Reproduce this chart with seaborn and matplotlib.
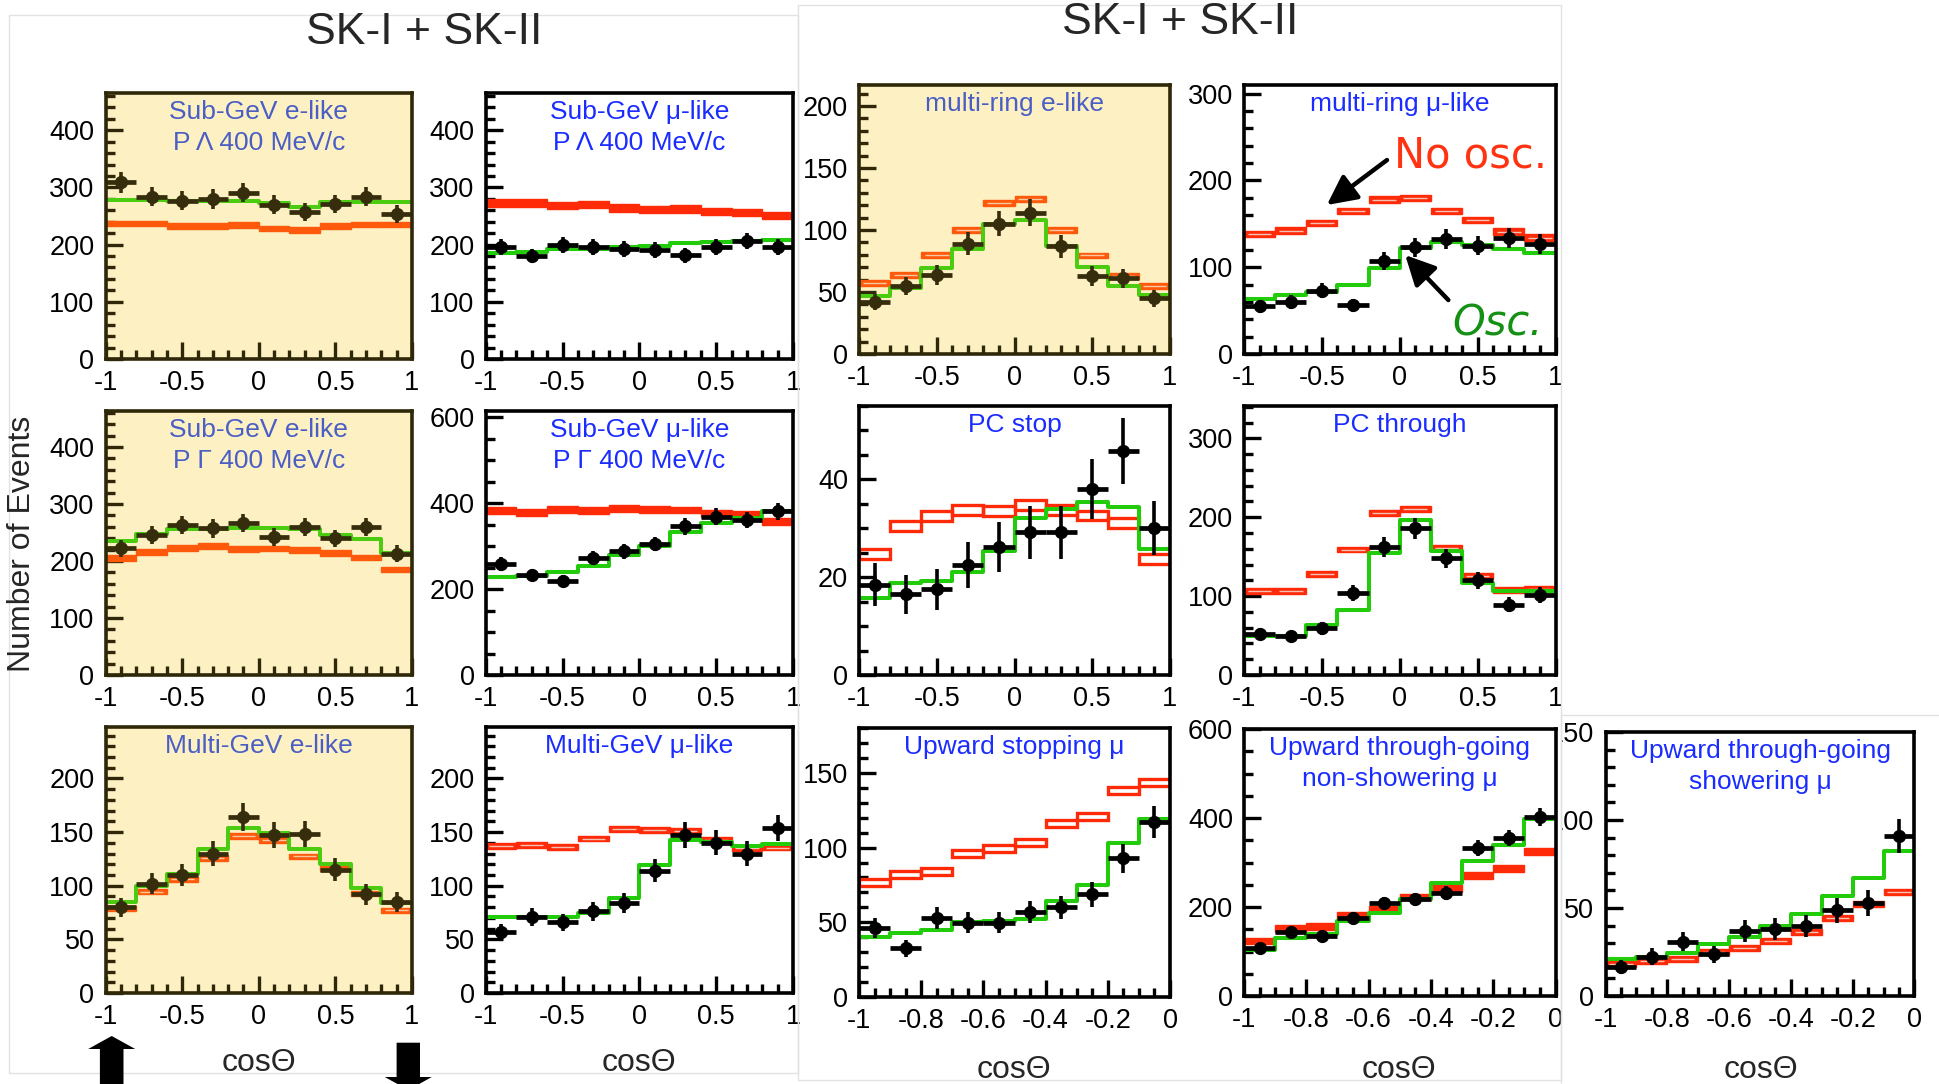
import numpy as np
import pandas as pd
import matplotlib
matplotlib.use("Agg")
import matplotlib.pyplot as plt
from matplotlib.patches import Rectangle, Polygon
from matplotlib.transforms import Bbox
import seaborn as sns

sns.set_theme(style="ticks")
plt.rcParams["font.family"] = ["Liberation Sans", "DejaVu Sans"]
plt.rcParams["axes.unicode_minus"] = False

FIG_W, FIG_H = 1939, 1084

# ---------------- zenith-angle bins ----------------
cos_edges = [-1.0, -0.8, -0.6, -0.4, -0.2, 0.0, 0.2, 0.4, 0.6, 0.8, 1.0]
up_edges = [-1.0, -0.9, -0.8, -0.7, -0.6, -0.5, -0.4, -0.3, -0.2, -0.1, 0.0]
cos_ticks = [-1, -0.5, 0, 0.5, 1]
cos_labels = ["-1", "-0.5", "0", "0.5", "1"]
up_ticks = [-1, -0.8, -0.6, -0.4, -0.2, 0]
up_labels = ["-1", "-0.8", "-0.6", "-0.4", "-0.2", "0"]

# ---------------- Sub-GeV e-like, low momentum ----------------
sub_e_lo_data = [309, 284, 277, 280, 291, 270, 257, 271, 284, 254]
sub_e_lo_err = [18, 17, 17, 17, 17, 16, 16, 16, 17, 16]
sub_e_lo_osc = [278, 278, 277, 276, 277, 272, 265, 274, 275, 275]
sub_e_lo_noosc = [237, 237, 233, 232, 234, 228, 225, 233, 235, 235]

# ---------------- Sub-GeV mu-like, low momentum ----------------
sub_mu_lo_data = [195, 180, 199, 196, 192, 190, 181, 195, 207, 196]
sub_mu_lo_err = [14, 13, 14, 14, 14, 14, 13, 14, 14, 14]
sub_mu_lo_osc = [185, 187, 192, 193, 196, 198, 202, 204, 206, 208]
sub_mu_lo_noosc = [273, 273, 268, 270, 264, 261, 262, 258, 256, 251]

# ---------------- multi-ring e-like ----------------
mr_e_data = [42, 55, 64, 89, 105, 114, 87, 63, 61, 45]
mr_e_err = [6.5, 7.4, 8.0, 9.4, 10.2, 10.7, 9.3, 7.9, 7.8, 6.7]
mr_e_osc = [47, 53.5, 69, 85, 105, 108, 87.5, 70, 54.5, 47.5]
mr_e_noosc = [57, 64, 80, 100, 122, 125, 100, 79.5, 63, 55]

# ---------------- multi-ring mu-like ----------------
mr_mu_data = [55, 60, 73, 56, 107, 123, 132, 125, 134, 127]
mr_mu_err = [7.4, 7.7, 8.5, 7.5, 10.3, 11.1, 11.5, 11.2, 11.6, 11.3]
mr_mu_osc = [63, 68, 72, 80, 99, 122, 129, 126, 121, 116]
mr_mu_noosc = [138.5, 142, 151, 165, 178, 180, 165, 154.5, 141, 134]

# ---------------- Sub-GeV e-like, high momentum ----------------
sub_e_hi_data = [222, 246, 263, 257, 266, 242, 260, 240, 260, 213]
sub_e_hi_err = [15, 16, 16, 16, 16, 16, 16, 15, 16, 15]
sub_e_hi_osc = [235, 248, 255.5, 255.5, 257, 257, 255.5, 245.5, 238, 214.5]
sub_e_hi_noosc = [205, 216, 223, 226, 220.5, 222, 219, 214.5, 206, 185]

# ---------------- Sub-GeV mu-like, high momentum ----------------
sub_mu_hi_data = [258, 233, 219, 272, 288, 305, 346, 369, 361, 381]
sub_mu_hi_err = [16, 15, 15, 16, 17, 17, 19, 19, 19, 20]
sub_mu_hi_osc = [228, 229.5, 239, 255, 280, 301.5, 332, 353.5, 365, 383]
sub_mu_hi_noosc = [383, 378, 386, 384, 388, 386, 384.5, 377, 373, 357]

# ---------------- PC stop ----------------
pc_stop_data = [18.5, 16.5, 17.5, 22.4, 26.2, 29.2, 29.2, 38, 45.8, 30.1]
pc_stop_err = [4.3, 4.0, 4.2, 4.7, 5.1, 5.4, 5.4, 6.2, 6.8, 5.5]
pc_stop_osc = [15.8, 18.8, 19.3, 21.1, 25.4, 32.1, 34.0, 35.4, 34.3, 25.7]
pc_stop_noosc = [24.7, 30.4, 32.5, 33.7, 33.5, 34.8, 33.7, 32.6, 31.1, 23.7]

# ---------------- PC through ----------------
pc_thru_data = [52, 49, 59, 104, 162, 186, 148, 120, 89, 101]
pc_thru_err = [7.2, 7.0, 7.7, 10.2, 12.7, 13.6, 12.2, 11.0, 9.4, 10.0]
pc_thru_osc = [50, 49, 63, 83, 155, 196, 157, 117, 106, 107]
pc_thru_noosc = [107, 107, 128, 159, 205, 210.7, 161, 125, 108, 109]

# ---------------- Multi-GeV e-like ----------------
mg_e_data = [80, 102, 110, 130, 164, 147, 148, 115, 92, 85]
mg_e_err = [9.0, 10.0, 10.5, 11.4, 12.8, 12.1, 12.2, 10.7, 9.6, 9.2]
mg_e_osc = [84.5, 100, 110.5, 134, 154, 149, 134, 120.5, 97.5, 83.5]
mg_e_noosc = [79, 94.5, 106, 126, 146.5, 142.5, 127.5, 116, 92.5, 77]

# ---------------- Multi-GeV mu-like ----------------
mg_mu_data = [57, 71, 66, 76, 84, 114, 147, 140, 130, 154]
mg_mu_err = [7.5, 8.4, 8.1, 8.7, 9.2, 10.7, 12.1, 11.8, 11.4, 12.4]
mg_mu_osc = [70.5, 71, 71, 75, 89, 119, 142.5, 141, 137, 138.5]
mg_mu_noosc = [137, 138, 136, 144, 153, 152, 151, 142.5, 135, 135.5]

# ---------------- Upward stopping mu ----------------
up_stop_data = [46, 32.5, 52.7, 49.6, 49.6, 56.7, 60, 68.6, 92.7, 117]
up_stop_err = [6.8, 5.7, 7.3, 7.0, 7.0, 7.5, 7.7, 8.3, 9.6, 10.8]
up_stop_osc = [40, 42.8, 45, 50.4, 50.7, 52, 64, 74.7, 102.8, 119]
up_stop_noosc = [76.5, 82, 83.7, 96, 99.4, 103.4, 116, 121, 138, 143.8]

# ---------------- Upward through-going, non-showering mu ----------------
up_ns_data = [108, 144, 134, 175, 208, 217, 232, 333, 355, 402]
up_ns_err = [10.4, 12.0, 11.6, 13.2, 14.4, 14.7, 15.2, 18.2, 18.8, 20.0]
up_ns_osc = [104, 131, 140, 168, 187, 217, 255, 304, 340, 397]
up_ns_noosc = [123.5, 151, 157, 181, 195, 222.5, 241, 270, 286, 325]

# ---------------- Upward through-going, showering mu ----------------
up_sh_data = [16.3, 22.3, 30.8, 23.6, 36.8, 38, 39.8, 48.7, 52.8, 91]
up_sh_err = [4.0, 4.7, 5.5, 4.9, 6.1, 6.2, 6.3, 7.0, 7.3, 9.5]
up_sh_osc = [20.8, 22.3, 24.6, 29.5, 33.6, 39.8, 46.8, 56.8, 67, 82.5]
up_sh_noosc = [18, 20, 21, 24.8, 27.4, 31.4, 36.4, 44.4, 52, 59]

# ---------------- colour schemes ----------------
WHITE = dict(bg="white", frame="black", pt="black", red="#ff2a08",
             mid="#f2c2b4", green="#22cc0a", title="#1a2cff")
YELLOW = dict(bg="#fdf1c4", frame="#2e2708", pt="#362d0c", red="#ff5a0c",
              mid="#f7c8a0", green="#4ccc10", title="#4a5ec4")

TICK_FS = 19.5
TITLE_FS = 19

fig = plt.figure(figsize=(FIG_W / 100, FIG_H / 100), dpi=100)


def px_rect(left, top, right, bottom):
    return [left / FIG_W, 1 - bottom / FIG_H, (right - left) / FIG_W, (bottom - top) / FIG_H]


def draw_panel(box, edges, data, err, osc, noosc, band, style, ymax, ymajor,
               yminor, xmajor, xlabels, xminor, title, scheme):
    ax = fig.add_axes(px_rect(*box))
    c = scheme
    ax.set_facecolor(c["bg"])
    edges = np.asarray(edges, float)
    width = edges[1] - edges[0]
    centers = edges[:-1] + width / 2
    noosc = np.asarray(noosc, float)

    # no-oscillation expectation as MC boxes
    if style == "hollow":
        ax.bar(edges[:-1], 2 * band, bottom=noosc - band, width=width, align="edge",
               facecolor="none", edgecolor=c["red"], linewidth=2.4, zorder=2)
    else:
        ax.bar(edges[:-1], 2 * band, bottom=noosc - band, width=width, align="edge",
               facecolor=c["red"], edgecolor=c["red"], linewidth=1.0, zorder=2)
        if style == "line":
            ax.hlines(noosc, edges[:-1] + 0.12 * width, edges[1:] - 0.12 * width,
                      color=c["mid"], lw=1.0, zorder=2.5)

    # oscillated best fit as a step histogram
    steps = pd.DataFrame({"cos": edges, "n": np.append(osc, osc[-1])})
    sns.lineplot(data=steps, x="cos", y="n", drawstyle="steps-post", color=c["green"],
                 lw=2.9, ax=ax, estimator=None, sort=False, legend=False, zorder=3)

    # observed events: bin-width bars, statistical errors and markers
    ax.errorbar(centers, data, xerr=width / 2, fmt="none", ecolor=c["pt"],
                elinewidth=3.4, capsize=0, zorder=4)
    ax.errorbar(centers, data, yerr=err, fmt="o", ms=8.5, color=c["pt"], ecolor=c["pt"],
                elinewidth=2.6, capsize=0, zorder=4)

    ax.set_xlim(edges[0], edges[-1])
    ax.set_ylim(0, ymax)
    ax.set_xlabel("")
    ax.set_ylabel("")
    ax.set_xticks(xmajor)
    ax.set_xticklabels(xlabels)
    ax.set_xticks(xminor, minor=True)
    ax.set_yticks(ymajor)
    ax.set_yticklabels([f"{v:g}" for v in ymajor])
    ax.set_yticks(yminor, minor=True)
    ax.tick_params(which="both", direction="in", top=False, right=False, left=True,
                   bottom=True, color=c["frame"], width=2.4, labelsize=TICK_FS, pad=8,
                   labelcolor="black")
    ax.tick_params(which="major", length=12)
    ax.tick_params(which="minor", length=6.2)
    for sp in ax.spines.values():
        sp.set_visible(True)
        sp.set_linewidth(2.6)
        sp.set_color(c["frame"])
        sp.set_zorder(6)

    for line, off in zip(title, (13.7, 36.0)):
        ax.annotate(line, xy=(0.5, 1.0), xycoords="axes fraction", xytext=(0, -off),
                    textcoords="offset points", ha="center", va="center",
                    fontsize=TITLE_FS, color=c["title"], zorder=7)
    return ax


def minor(lo, hi, step):
    return list(np.round(np.arange(lo, hi + step / 2, step), 4))


cos_minor = minor(-1, 1, 0.1)
up_minor = minor(-1, 0, 0.05)

X1, X2, X3, X4, X5 = (105.6, 412), (485.7, 793), (859, 1170), (1244, 1555.5), (1605.5, 1914.5)

# row 1
draw_panel((X1[0], 93, X1[1], 359), cos_edges, sub_e_lo_data, sub_e_lo_err, sub_e_lo_osc,
           sub_e_lo_noosc, 5.0, "solid", 465, [0, 100, 200, 300, 400], minor(0, 460, 20),
           cos_ticks, cos_labels, cos_minor, ["Sub-GeV e-like", "P Λ 400 MeV/c"], YELLOW)
draw_panel((X2[0], 93, X2[1], 359), cos_edges, sub_mu_lo_data, sub_mu_lo_err, sub_mu_lo_osc,
           sub_mu_lo_noosc, 6.6, "solid", 465, [0, 100, 200, 300, 400], minor(0, 460, 20),
           cos_ticks, cos_labels, cos_minor, ["Sub-GeV μ-like", "P Λ 400 MeV/c"], WHITE)
draw_panel((X3[0], 85, X3[1], 354), cos_edges, mr_e_data, mr_e_err, mr_e_osc, mr_e_noosc,
           2.3, "line", 217, [0, 50, 100, 150, 200], minor(0, 210, 10),
           cos_ticks, cos_labels, cos_minor, ["multi-ring e-like"], YELLOW)
ax_mrmu = draw_panel((X4[0], 85, X4[1], 354), cos_edges, mr_mu_data, mr_mu_err, mr_mu_osc,
                     mr_mu_noosc, 3.8, "line", 310, [0, 100, 200, 300], minor(0, 300, 20),
                     cos_ticks, cos_labels, cos_minor, ["multi-ring μ-like"], WHITE)

# row 2
draw_panel((X1[0], 411, X1[1], 675), cos_edges, sub_e_hi_data, sub_e_hi_err, sub_e_hi_osc,
           sub_e_hi_noosc, 5.0, "solid", 463, [0, 100, 200, 300, 400], minor(0, 460, 20),
           cos_ticks, cos_labels, cos_minor, ["Sub-GeV e-like", "P Γ 400 MeV/c"], YELLOW)
draw_panel((X2[0], 411, X2[1], 675), cos_edges, sub_mu_hi_data, sub_mu_hi_err, sub_mu_hi_osc,
           sub_mu_hi_noosc, 8.0, "solid", 615, [0, 200, 400, 600], minor(0, 600, 50),
           cos_ticks, cos_labels, cos_minor, ["Sub-GeV μ-like", "P Γ 400 MeV/c"], WHITE)
draw_panel((X3[0], 406, X3[1], 675), cos_edges, pc_stop_data, pc_stop_err, pc_stop_osc,
           pc_stop_noosc, 1.0, "hollow", 55, [0, 20, 40], minor(0, 55, 5),
           cos_ticks, cos_labels, cos_minor, ["PC stop"], WHITE)
draw_panel((X4[0], 406, X4[1], 675), cos_edges, pc_thru_data, pc_thru_err, pc_thru_osc,
           pc_thru_noosc, 3.7, "line", 341, [0, 100, 200, 300], minor(0, 340, 20),
           cos_ticks, cos_labels, cos_minor, ["PC through"], WHITE)

# row 3
draw_panel((X1[0], 727, X1[1], 993), cos_edges, mg_e_data, mg_e_err, mg_e_osc, mg_e_noosc,
           2.5, "line", 248, [0, 50, 100, 150, 200], minor(0, 240, 10),
           cos_ticks, cos_labels, cos_minor, ["Multi-GeV e-like"], YELLOW)
draw_panel((X2[0], 727, X2[1], 993), cos_edges, mg_mu_data, mg_mu_err, mg_mu_osc, mg_mu_noosc,
           2.5, "line", 248, [0, 50, 100, 150, 200], minor(0, 240, 10),
           cos_ticks, cos_labels, cos_minor, ["Multi-GeV μ-like"], WHITE)
draw_panel((X3[0], 728, X3[1], 997), up_edges, up_stop_data, up_stop_err, up_stop_osc,
           up_stop_noosc, 2.3, "hollow", 180, [0, 50, 100, 150], minor(0, 180, 10),
           up_ticks, up_labels, up_minor, ["Upward stopping μ"], WHITE)
draw_panel((X4[0], 729, X4[1], 996), up_edges, up_ns_data, up_ns_err, up_ns_osc,
           up_ns_noosc, 7.7, "solid", 600, [0, 200, 400, 600], minor(0, 600, 50),
           up_ticks, up_labels, up_minor, ["Upward through-going", "non-showering μ"], WHITE)
ax_sh = draw_panel((X5[0], 732, X5[1], 996), up_edges, up_sh_data, up_sh_err, up_sh_osc,
                   up_sh_noosc, 1.7, "line", 150, [0, 50, 100, 150], minor(0, 150, 10),
                   up_ticks, up_labels, up_minor, ["Upward through-going", "showering μ"], WHITE)

# the showering panel sits partly under the neighbouring frame: clip its y labels
clip = Bbox([[1562, 0], [FIG_W, FIG_H]])
for tick in ax_sh.yaxis.get_major_ticks():
    tick.label1.set_clip_box(clip)
    tick.label1.set_clip_on(True)

# "No osc." / "Osc." annotations
arrow = dict(arrowstyle="-|>,head_length=0.9,head_width=0.45", lw=3.2, color="black",
             shrinkA=0, shrinkB=0, mutation_scale=20)
ax_mrmu.annotate("", xy=(-0.468, 171.7), xytext=(-0.082, 223.5), arrowprops=arrow, zorder=8)
ax_mrmu.annotate("", xy=(0.035, 114), xytext=(0.312, 62.2), arrowprops=arrow, zorder=8)
ax_mrmu.text(0.453, 229, "No osc.", fontsize=30, family=["DejaVu Sans"], color="#ff3311",
             ha="center", va="center", zorder=8)
ax_mrmu.text(0.627, 34.6, "Osc.", fontsize=30, family=["DejaVu Sans"], style="italic",
             color="#149014", ha="center", va="center", zorder=8)

# figure-level labels
fig.text(424 / FIG_W, 1 - 32 / FIG_H, "SK-I + SK-II", fontsize=32, ha="center", va="center")
fig.text(1180 / FIG_W, 1 - 23 / FIG_H, "SK-I + SK-II", fontsize=32, ha="center", va="center")
fig.text(22 / FIG_W, 1 - 544 / FIG_H, "Number of Events", fontsize=23, rotation=90,
         ha="center", va="center")
for xc, yc in ((259, 1063), (639, 1063), (1014, 1070), (1399, 1070), (1761, 1070)):
    fig.text(xc / FIG_W, 1 - yc / FIG_H, "cosΘ", fontsize=23, ha="center", va="center")


def fig_poly(points, **kw):
    pts = [(x / FIG_W, 1 - y / FIG_H) for x, y in points]
    fig.patches.append(Polygon(pts, closed=True, transform=fig.transFigure, **kw))


# upward / downward going direction arrows
fig_poly([(111.7, 1036), (135.2, 1049), (123.5, 1049), (123.5, 1095), (99.9, 1095),
          (99.9, 1049), (88.2, 1049)], facecolor="black", edgecolor="none")
fig_poly([(396.6, 1042.7), (420.0, 1042.7), (420.0, 1077), (431.8, 1077), (408.3, 1090),
          (384.8, 1077), (396.6, 1077)], facecolor="black", edgecolor="none")

# faint outlines of the grouped plots
for (l, t, r, b) in ((9, 15, 798, 1073), (798, 5, 1561, 1080), (1561, 715, 1950, 1095)):
    fig.patches.append(Rectangle((l / FIG_W, 1 - b / FIG_H), (r - l) / FIG_W, (b - t) / FIG_H,
                                 transform=fig.transFigure, fill=False,
                                 edgecolor="#e2e2e2", lw=1.0, zorder=0))

fig.savefig("out.png", dpi=100)
